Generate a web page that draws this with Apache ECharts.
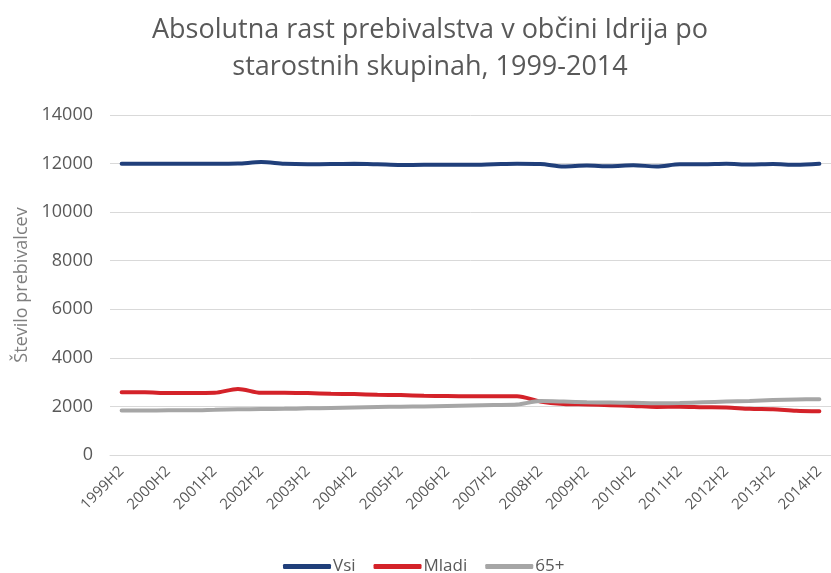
<!DOCTYPE html>
<html>
<head>
<meta charset="utf-8">
<script src="https://cdn.jsdelivr.net/npm/echarts@6/dist/echarts.min.js"></script>
<style>
  html, body { margin: 0; padding: 0; background: #fff; }
  #main { width: 831px; height: 573px; }
</style>
</head>
<body>
<div id="main"></div>
<script>
var categories = ['1999H2', '2000H1', '2000H2', '2001H1', '2001H2', '2002H1', '2002H2', '2003H1', '2003H2', '2004H1',
  '2004H2', '2005H1', '2005H2', '2006H1', '2006H2', '2007H1', '2007H2', '2008H1', '2008H2', '2009H1',
  '2009H2', '2010H1', '2010H2', '2011H1', '2011H2', '2012H1', '2012H2', '2013H1', '2013H2', '2014H1', '2014H2'];

var vsi = [11990, 11990, 11990, 11990, 11990, 12000, 12060, 11990, 11970, 11980,
  11990, 11970, 11940, 11950, 11950, 11950, 11970, 11990, 11980, 11880,
  11920, 11890, 11930, 11880, 11970, 11970, 11990, 11960, 11980, 11950, 11990];

var mladi = [2580, 2580, 2550, 2550, 2560, 2720, 2560, 2560, 2550, 2520,
  2510, 2480, 2470, 2440, 2430, 2420, 2420, 2420, 2200, 2100,
  2080, 2050, 2020, 1980, 1990, 1970, 1960, 1900, 1880, 1820, 1800];

var starejsi = [1830, 1830, 1840, 1840, 1860, 1880, 1890, 1900, 1920, 1940,
  1960, 1980, 1990, 2000, 2020, 2040, 2060, 2080, 2220, 2200,
  2170, 2160, 2150, 2130, 2140, 2170, 2200, 2220, 2260, 2290, 2300];

var textColor = '#595959';
var font = 'Open Sans';
var chart = echarts.init(document.getElementById('main'));

function lineSeries(name, data, color) {
  return {
    name: name,
    type: 'line',
    data: data,
    smooth: 0.3,
    symbol: 'none',
    lineStyle: { width: 4, color: color, cap: 'round' },
    itemStyle: { color: color }
  };
}

var option = {
  animation: false,
  backgroundColor: '#fff',
  title: {
    text: 'Absolutna rast prebivalstva v občini Idrija po\nstarostnih skupinah, 1999-2014',
    left: 425,
    textAlign: 'center',
    top: 7,
    textStyle: {
      fontFamily: font,
      fontWeight: 'normal',
      fontSize: 27,
      lineHeight: 37,
      color: textColor
    }
  },
  legend: {
    left: 278,
    top: 553,
    itemWidth: 48,
    itemHeight: 5,
    itemGap: 18,
    icon: 'roundRect',
    textStyle: { fontFamily: font, fontSize: 17, color: textColor, padding: [0, 0, 0, -3] },
    data: ['Vsi', 'Mladi', '65+']
  },
  grid: {
    left: 110,
    top: 115,
    width: 731,
    height: 340
  },
  xAxis: {
    type: 'category',
    data: categories,
    boundaryGap: true,
    axisLine: { lineStyle: { color: '#d9d9d9', width: 1 } },
    axisTick: { show: false },
    axisLabel: {
      interval: 1,
      rotate: 45,
      margin: 14,
      fontFamily: font,
      fontSize: 15,
      color: textColor
    }
  },
  yAxis: {
    type: 'value',
    min: 0,
    max: 14000,
    interval: 2000,
    name: 'Število prebivalcev',
    nameLocation: 'middle',
    nameGap: 70,
    nameTextStyle: { fontFamily: font, fontSize: 18, color: '#7f7f7f' },
    axisLine: { show: false },
    axisTick: { show: false },
    splitLine: { lineStyle: { color: '#d9d9d9', width: 1 } },
    axisLabel: {
      margin: 17,
      fontFamily: font,
      fontSize: 18,
      color: textColor,
      formatter: function (v) { return String(v); }
    }
  },
  series: [
    lineSeries('Vsi', vsi, '#203f7a'),
    lineSeries('Mladi', mladi, '#d42229'),
    lineSeries('65+', starejsi, '#a6a6a6')
  ]
};

chart.setOption(option);
</script>
</body>
</html>
